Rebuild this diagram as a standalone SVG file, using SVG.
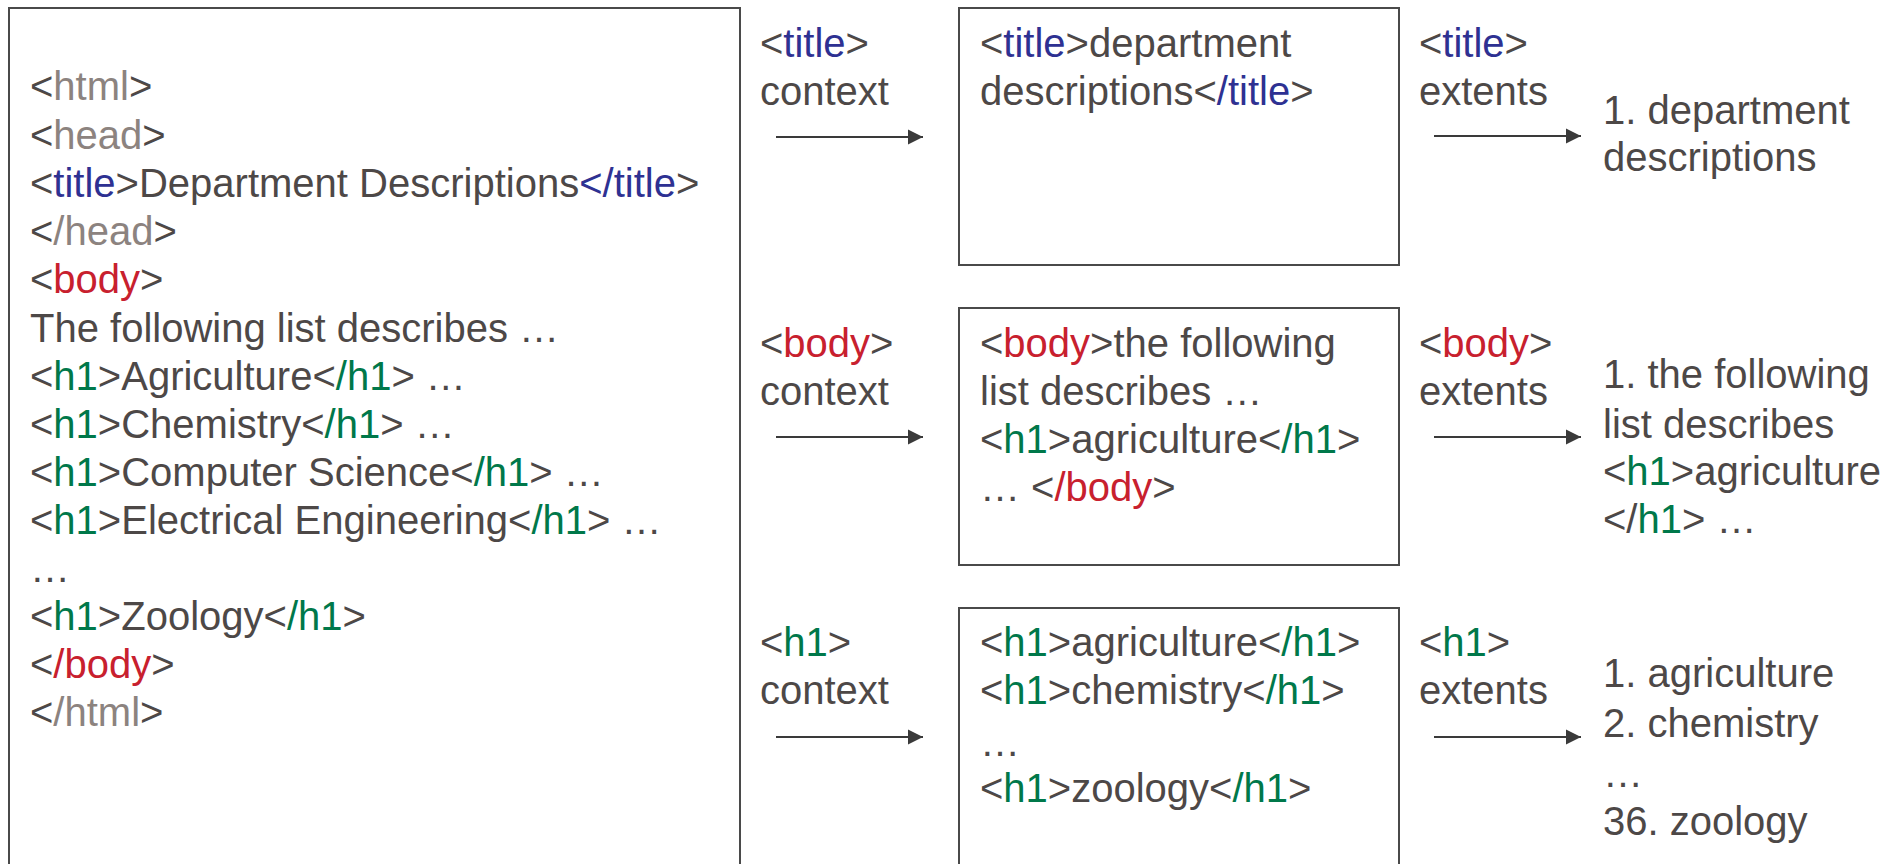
<svg xmlns="http://www.w3.org/2000/svg" width="1895" height="864" viewBox="0 0 1895 864">
<defs>
<style>
text{font-family:"Liberation Sans",Arial,sans-serif;font-size:40px;fill:#4d4847}
.g{fill:#8c837f}
.b{fill:#2e3192}
.r{fill:#c8202e}
.h{fill:#00784a}
.box{fill:#fff;stroke:#4a4a4a;stroke-width:2}
.arr{stroke:#3a3a3a;stroke-width:2;fill:none;marker-end:url(#ah)}
</style>
<marker id="ah" markerUnits="userSpaceOnUse" markerWidth="16" markerHeight="16" refX="15" refY="8" orient="auto">
<path d="M0,0.5 L15,8 L0,15.5 Z" fill="#3a3a3a"/>
</marker>
</defs>
<rect width="1895" height="864" fill="#fff"/>
<g id="source">
<rect class="box" x="9" y="8" width="731" height="880"/>
<text x="30" y="100">&lt;<tspan class="g">html</tspan>&gt;</text>
<text x="30" y="149">&lt;<tspan class="g">head</tspan>&gt;</text>
<text x="30" y="197">&lt;<tspan class="b">title</tspan>&gt;Department Descriptions<tspan class="b">&lt;/title</tspan>&gt;</text>
<text x="30" y="245">&lt;<tspan class="g">/head</tspan>&gt;</text>
<text x="30" y="293">&lt;<tspan class="r">body</tspan>&gt;</text>
<text x="30" y="342">The following list describes …</text>
<text x="30" y="390">&lt;<tspan class="h">h1</tspan>&gt;Agriculture&lt;<tspan class="h">/h1</tspan>&gt; …</text>
<text x="30" y="438">&lt;<tspan class="h">h1</tspan>&gt;Chemistry&lt;<tspan class="h">/h1</tspan>&gt; …</text>
<text x="30" y="486">&lt;<tspan class="h">h1</tspan>&gt;Computer Science&lt;<tspan class="h">/h1</tspan>&gt; …</text>
<text x="30" y="534">&lt;<tspan class="h">h1</tspan>&gt;Electrical Engineering&lt;<tspan class="h">/h1</tspan>&gt; …</text>
<text x="30" y="582">…</text>
<text x="30" y="630">&lt;<tspan class="h">h1</tspan>&gt;Zoology&lt;<tspan class="h">/h1</tspan>&gt;</text>
<text x="30" y="678">&lt;<tspan class="r">/body</tspan>&gt;</text>
<text x="30" y="726">&lt;<tspan class="g">/html</tspan>&gt;</text>
</g>
<g id="title-context-label">
<text x="760" y="57">&lt;<tspan class="b">title</tspan>&gt;</text>
<text x="760" y="105">context</text>
</g>
<g id="body-context-label">
<text x="760" y="357">&lt;<tspan class="r">body</tspan>&gt;</text>
<text x="760" y="405">context</text>
</g>
<g id="h1-context-label">
<text x="760" y="656">&lt;<tspan class="h">h1</tspan>&gt;</text>
<text x="760" y="704">context</text>
</g>
<g id="title-context">
<rect class="box" x="959" y="8" width="440" height="257"/>
<text x="980" y="57">&lt;<tspan class="b">title</tspan>&gt;department</text>
<text x="980" y="105">descriptions&lt;<tspan class="b">/title</tspan>&gt;</text>
</g>
<g id="body-context">
<rect class="box" x="959" y="308" width="440" height="257"/>
<text x="980" y="357">&lt;<tspan class="r">body</tspan>&gt;the following</text>
<text x="980" y="405">list describes …</text>
<text x="980" y="453">&lt;<tspan class="h">h1</tspan>&gt;agriculture&lt;<tspan class="h">/h1</tspan>&gt;</text>
<text x="980" y="501">… &lt;<tspan class="r">/body</tspan>&gt;</text>
</g>
<g id="h1-context">
<rect class="box" x="959" y="608" width="440" height="280"/>
<text x="980" y="656">&lt;<tspan class="h">h1</tspan>&gt;agriculture&lt;<tspan class="h">/h1</tspan>&gt;</text>
<text x="980" y="704">&lt;<tspan class="h">h1</tspan>&gt;chemistry&lt;<tspan class="h">/h1</tspan>&gt;</text>
<text x="980" y="756">…</text>
<text x="980" y="802">&lt;<tspan class="h">h1</tspan>&gt;zoology&lt;<tspan class="h">/h1</tspan>&gt;</text>
</g>
<g id="title-extents-label">
<text x="1419" y="57">&lt;<tspan class="b">title</tspan>&gt;</text>
<text x="1419" y="105">extents</text>
</g>
<g id="body-extents-label">
<text x="1419" y="357">&lt;<tspan class="r">body</tspan>&gt;</text>
<text x="1419" y="405">extents</text>
</g>
<g id="h1-extents-label">
<text x="1419" y="656">&lt;<tspan class="h">h1</tspan>&gt;</text>
<text x="1419" y="704">extents</text>
</g>
<g id="title-extents">
<text x="1603" y="124">1. department</text>
<text x="1603" y="171">descriptions</text>
</g>
<g id="body-extents">
<text x="1603" y="388">1. the following</text>
<text x="1603" y="438">list describes</text>
<text x="1603" y="485">&lt;<tspan class="h">h1</tspan>&gt;agriculture</text>
<text x="1603" y="533">&lt;/<tspan class="h">h1</tspan>&gt; …</text>
</g>
<g id="h1-extents">
<text x="1603" y="687">1. agriculture</text>
<text x="1603" y="737">2. chemistry</text>
<text x="1603" y="787">…</text>
<text x="1603" y="835">36. zoology</text>
</g>
<g id="connectors">
<line class="arr" x1="776" y1="137" x2="923" y2="137"/>
<line class="arr" x1="776" y1="437" x2="923" y2="437"/>
<line class="arr" x1="776" y1="737" x2="923" y2="737"/>
<line class="arr" x1="1434" y1="136" x2="1581" y2="136"/>
<line class="arr" x1="1434" y1="437" x2="1581" y2="437"/>
<line class="arr" x1="1434" y1="737" x2="1581" y2="737"/>
</g>
</svg>
